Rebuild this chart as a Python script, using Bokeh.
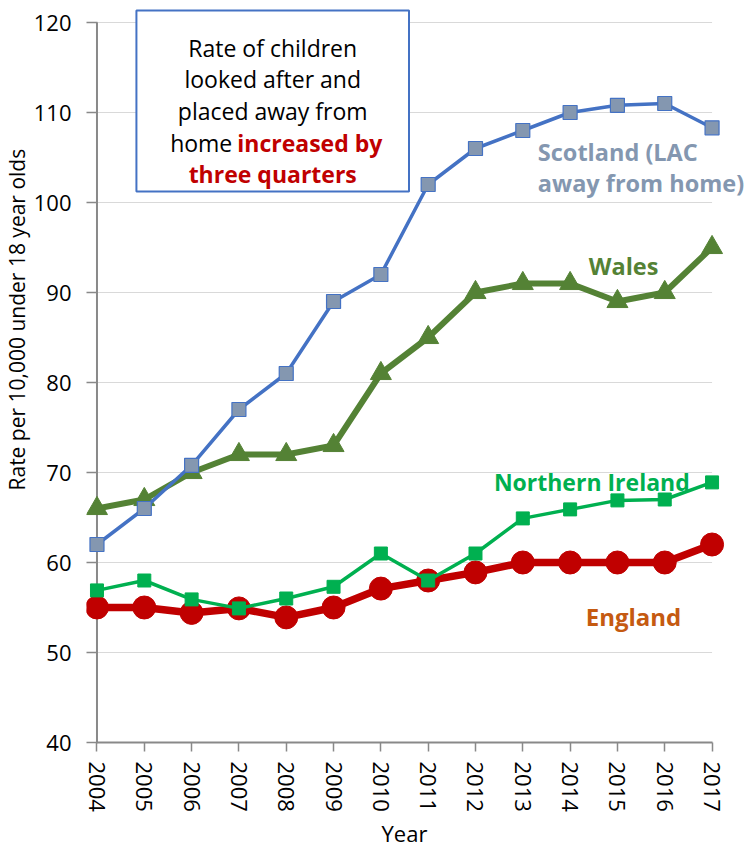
import math
from bokeh.plotting import figure
from bokeh.models import Range1d, Label, BoxAnnotation, FixedTicker, Title
from bokeh.embed import file_html
from bokeh.resources import INLINE

# ---------------- data ----------------
years = [2004, 2005, 2006, 2007, 2008, 2009, 2010, 2011, 2012, 2013, 2014, 2015, 2016, 2017]
england = [55, 55, 54.4, 54.9, 53.9, 55, 57.1, 58, 58.9, 60, 60, 60, 60, 62]
wales = [66, 67, 70, 72, 72, 73, 81, 85, 90, 91, 91, 89, 90, 95]
scotland = [62, 66, 70.8, 77, 81, 89, 92, 102, 106, 108, 110, 110.8, 111, 108.3]
northern_ireland = [56.9, 58, 55.9, 54.9, 56, 57.3, 61, 58, 61, 64.9, 65.9, 66.9, 67, 68.9]
y_ticks = [40, 50, 60, 70, 80, 90, 100, 110, 120]

# ---------------- layout helpers (canvas pixels -> data) ----------------
W, H = 746, 850
FL, FR, FT, FB = 85, 746, 0, 742      # frame edges in canvas pixels
PXY = (711.5 - 95.5) / 13.0           # px per year
PXV = 9.0                              # px per unit


def X(px):
    return 2004 + (px - 95.5) / PXY


def Y(py):
    return 40 + (742 - py) / PXV


FONT = "Open Sans"
AX = "#898989"

p = figure(width=W, height=H, output_backend="svg", toolbar_location=None,
           x_range=Range1d(X(FL), X(FR)), y_range=Range1d(Y(FB), Y(FT)),
           min_border_left=FL, min_border_right=W - FR, min_border_top=FT,
           min_border_bottom=H - FB)
p.outline_line_color = None
p.background_fill_color = "white"
p.border_fill_color = "white"
p.xgrid.visible = False
p.ygrid.visible = False

# gridlines (horizontal, between first and last year)
p.segment(x0=years[0], x1=years[-1], y0=y_ticks[1:], y1=y_ticks[1:],
          line_color="#D9D9D9", line_width=1.2)

# axes
xa = p.xaxis[0]
xa.ticker = FixedTicker(ticks=years)
xa.bounds = (years[0], years[-1])
xa.major_label_orientation = -math.pi / 2
xa.axis_line_color = AX
xa.axis_line_width = 2
xa.major_tick_line_color = AX
xa.major_tick_line_width = 1.5
xa.major_tick_out = 9
xa.major_tick_in = 0
xa.minor_tick_line_color = None
xa.major_label_standoff = 10
xa.major_label_text_font = FONT
xa.major_label_text_font_size = "22px"
xa.major_label_text_color = "black"

ya = p.yaxis[0]
ya.ticker = FixedTicker(ticks=y_ticks)
ya.axis_line_color = None
ya.major_tick_line_color = AX
ya.major_tick_line_width = 1.5
ya.major_tick_out = 0
ya.major_tick_in = 11
ya.minor_tick_line_color = None
ya.major_label_standoff = 15
ya.major_label_text_font = FONT
ya.major_label_text_font_size = "22px"
ya.major_label_text_color = "black"

# vertical axis line at the first year
p.segment(x0=[years[0]], x1=[years[0]], y0=[y_ticks[0]], y1=[y_ticks[-1]],
          line_color=AX, line_width=2)

# axis titles as side titles (positioned with offsets)
p.add_layout(Title(text="Rate per 10,000 under 18 year olds", align="left", offset=FB - 490,
                   text_font=FONT, text_font_size="21px", text_font_style="normal",
                   text_color="black", standoff=0), "left")
p.add_layout(Title(text="Year", align="left", offset=380 - FL,
                   text_font=FONT, text_font_size="22px", text_font_style="normal",
                   text_color="black", standoff=3), "below")

# series
p.line(years, england, line_color="#C00000", line_width=7.5)
p.scatter(years, england, marker="circle", size=23, fill_color="#C00000", line_color="#C00000")

p.line(years, wales, line_color="#548235", line_width=6)
p.scatter(years, wales, marker="triangle", size=21, fill_color="#548235", line_color="#548235")

p.line(years, scotland, line_color="#4472C4", line_width=3.5)
p.scatter(years, scotland, marker="square", size=14, fill_color="#8497B0", line_color="#4472C4", line_width=1.2)

p.line(years, northern_ireland, line_color="#00B050", line_width=3.5)
p.scatter(years, northern_ireland, marker="square", size=13, fill_color="#00B050", line_color="#00B050")

# annotation box
p.add_layout(BoxAnnotation(left=X(135), right=X(408), top=Y(10), bottom=Y(191),
                           fill_color="white", fill_alpha=1.0,
                           line_color="#4472C4", line_alpha=1.0, line_width=2))


def lab(text, px, py, color="black", bold=False, align="center", size="23px"):
    p.add_layout(Label(x=X(px), y=Y(py), text=text, text_align=align, text_baseline="alphabetic",
                       text_font=FONT, text_font_size=size, text_color=color,
                       text_font_style="bold" if bold else "normal"))


lab("Rate of children", 271.5, 47)
lab("looked after and", 271.5, 78)
lab("placed away from", 271.5, 110)
lab("home", 231, 142, align="right")
lab("increased by", 236, 142, color="#C00000", bold=True, align="left")
lab("three quarters", 271.5, 173, color="#C00000", bold=True)

# series labels
S = "23.5px"
lab("Scotland (LAC", 537, 151, color="#8497B0", bold=True, align="left", size=S)
lab("away from home)", 537, 182, color="#8497B0", bold=True, align="left", size=S)
lab("Wales", 588, 265, color="#548235", bold=True, align="left", size=S)
lab("Northern Ireland", 493, 481, color="#00B050", bold=True, align="left", size="23px")
lab("England", 585, 616, color="#C55A11", bold=True, align="left", size="24px")

open("out.html", "w").write(file_html(p, INLINE))
